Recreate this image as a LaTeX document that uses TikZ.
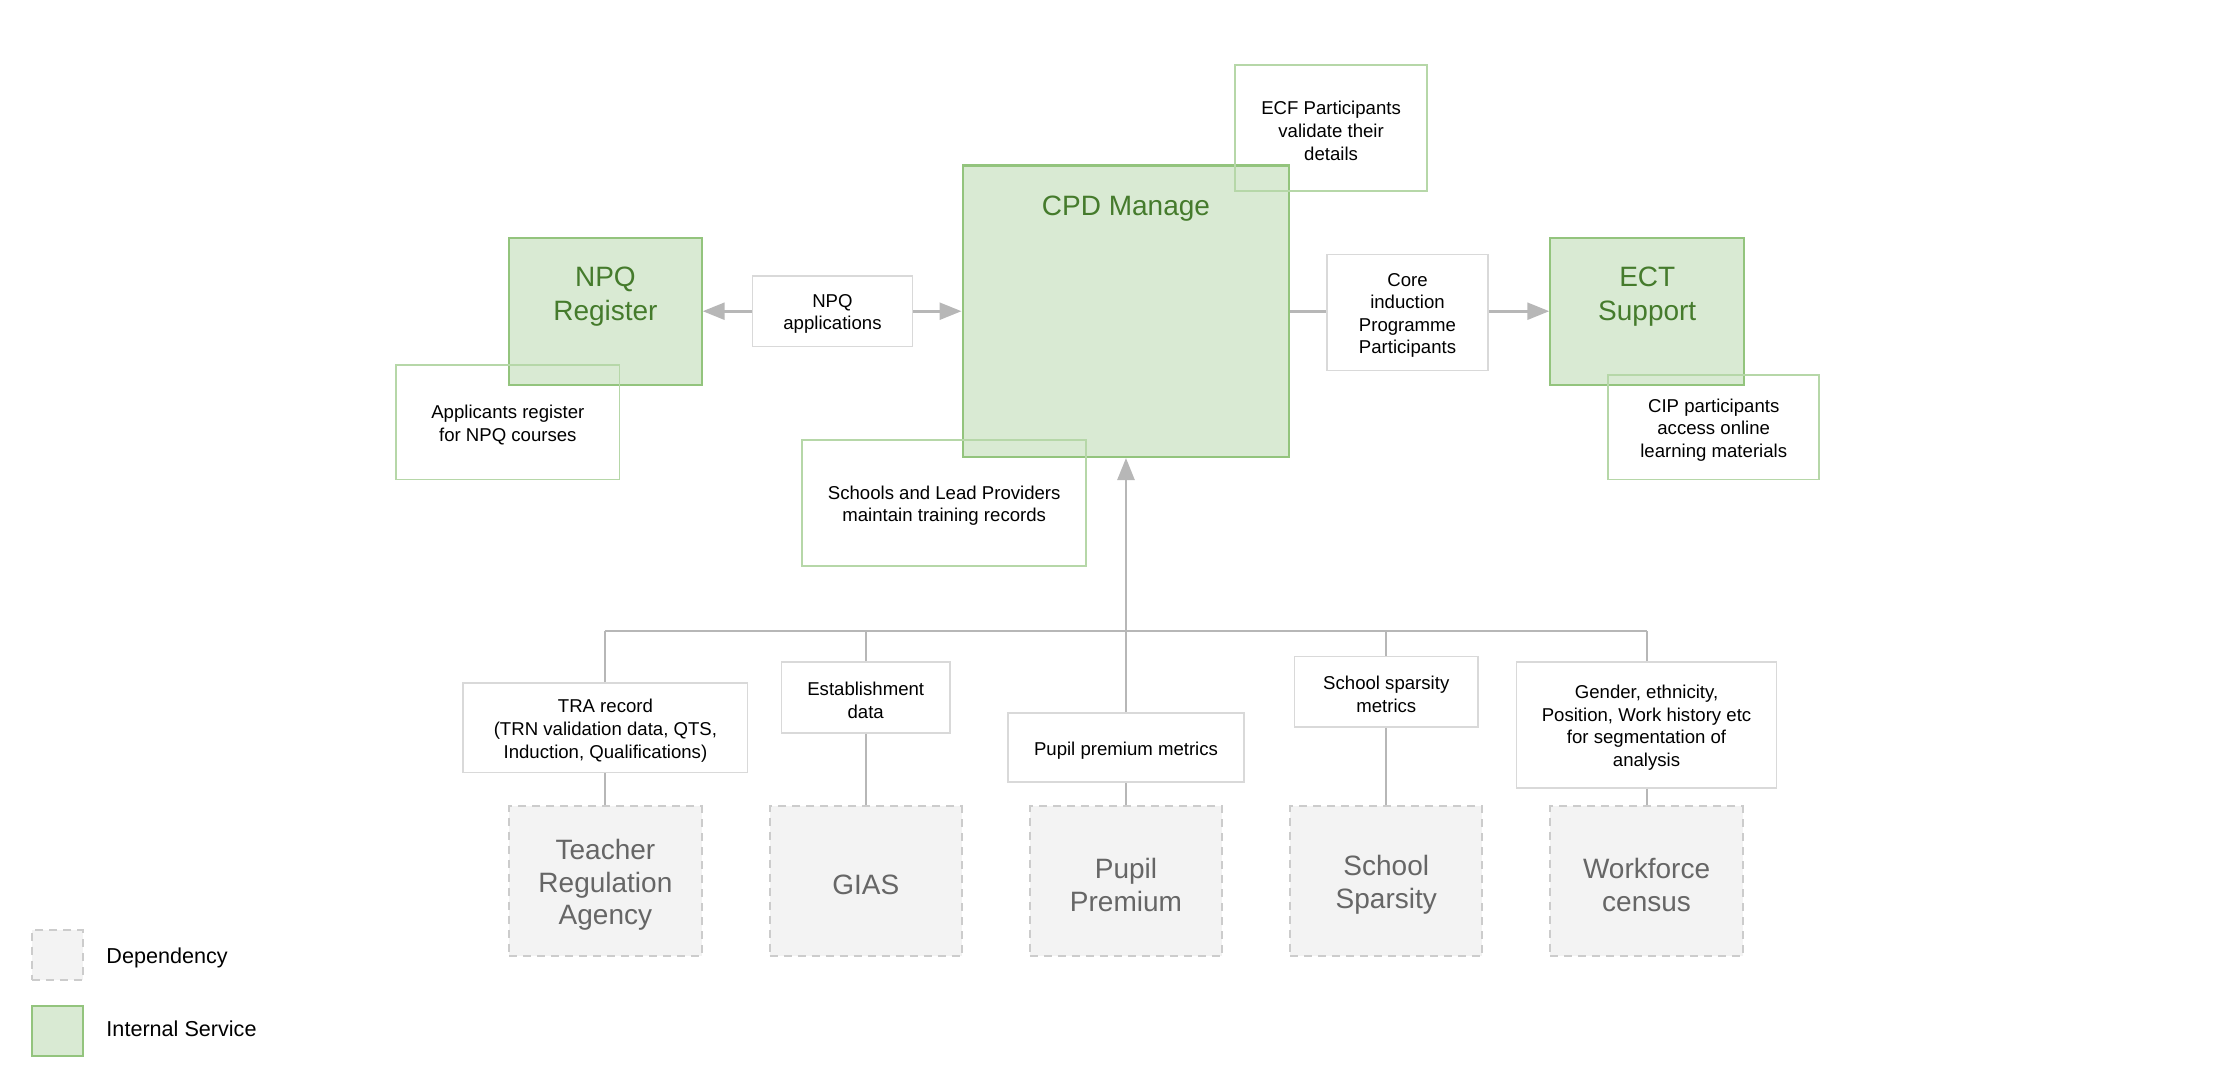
\documentclass[tikz,border=0pt]{standalone}
\usepackage{fontspec}
\setmainfont{Liberation Sans}
\usetikzlibrary{arrows.meta}
\definecolor{gfill}{HTML}{D9EAD3}
\definecolor{gborder}{HTML}{93C47D}
\definecolor{gtext}{HTML}{457B2C}
\definecolor{nborder}{HTML}{B6D7A8}
\definecolor{lborder}{HTML}{D9D9D9}
\definecolor{dfill}{HTML}{F3F3F3}
\definecolor{dborder}{HTML}{CCCCCC}
\definecolor{dtext}{HTML}{666666}
\definecolor{lgray}{HTML}{B7B7B7}
\def\U{0.70727pt}
\tikzset{
  sz/.style 2 args={minimum width=#1*\U, minimum height=#2*\U},
  svc/.style={draw=gborder, fill=gfill, line width=1.1pt, inner sep=0pt},
  svctext/.style={text=gtext, align=center, inner sep=0pt, font=\fontsize{14}{17}\selectfont},
  smalltext/.style={align=center, inner sep=0pt, yshift=-1.4pt, font=\fontsize{9.3}{11.3}\selectfont},
  deptext/.style={align=center, inner sep=0pt, yshift=-1.8pt, text=dtext, font=\fontsize{14}{16.3}\selectfont},
  txt/.style={label={[smalltext]center:{#1}}},
  dtxt/.style={label={[deptext]center:{#1}}},
  note/.style={draw=nborder, line width=0.9pt, inner sep=0pt},
  lab/.style={draw=lborder, fill=white, line width=0.8pt, inner sep=0pt},
  dep/.style={draw=dborder, fill=dfill, dash pattern=on 4pt off 3pt, line width=1pt, inner sep=0pt},
  legtext/.style={anchor=west, inner sep=0pt, font=\fontsize{10.8}{13}\selectfont},
  conn/.style={draw=lgray, line width=1pt},
  arr/.style={draw=lgray, line width=1.3pt, -{Triangle[length=11pt,width=8.5pt]}},
}
\begin{document}
\begin{tikzpicture}[x=0.70727pt, y=-0.70727pt]
\useasboundingbox (0,0) rectangle (1568,767.8);

% internal services
\node[svc, sz={231}{206}] (cpd) at (796,220) {};
\node[svctext] (cpdt) at (796,147.5) {CPD Manage};
\node[svc, sz={136}{104}] (npq) at (428,220) {};
\node[svctext] (npqt) at (428,209.5) {NPQ\\Register};
\node[svc, sz={137}{104}] (ect) at (1164.5,220) {};
\node[svctext] (ectt) at (1164.5,209.5) {ECT\\Support};

% notes (green outline, no fill)
\node[note, sz={136}{89}, txt={ECF Participants\\validate their\\details}] (ecf) at (941,90.5) {};
\node[note, sz={158}{81}, txt={Applicants register\\for NPQ courses}] (appl) at (359,298.5) {};
\node[note, sz={149}{74}, txt={CIP participants\\access online\\learning materials}] (cip) at (1211.5,302) {};
\node[note, sz={201}{89}, txt={Schools and Lead Providers\\maintain training records}] (schools) at (667.5,355.5) {};

% labels on top connectors
\node[lab, sz={113}{50}, txt={NPQ\\applications}] (apps) at (588.5,220) {};
\node[lab, sz={114}{82}, txt={Core\\induction\\Programme\\Participants}] (core) at (995,221) {};

% dependencies
\node[dep, sz={136}{106}, dtxt={Teacher\\Regulation\\Agency}] (tra) at (428,623) {};
\node[dep, sz={136}{106}, dtxt={GIAS}] (gias) at (612,623) {};
\node[dep, sz={136}{106}, dtxt={Pupil\\Premium}] (pp) at (796,623) {};
\node[dep, sz={136}{106}, dtxt={School\\Sparsity}] (ss) at (980,623) {};
\node[dep, sz={136}{106}, dtxt={Workforce\\census}] (wc) at (1164,623) {};

% data labels
\node[lab, sz={201}{63}, txt={TRA record\\(TRN validation data, QTS,\\Induction, Qualifications)}] (tral) at (428,514.5) {};
\node[lab, sz={119}{50}, txt={Establishment\\data}] (estl) at (612,493) {};
\node[lab, sz={167}{49}, txt={Pupil premium metrics}] (ppl) at (796,528.5) {};
\node[lab, sz={130}{50}, txt={School sparsity\\metrics}] (ssl) at (980,489) {};
\node[lab, sz={184}{89}, txt={Gender, ethnicity,\\Position, Work history etc\\for segmentation of\\analysis}] (wcl) at (1164,512.5) {};

\coordinate (bus) at (796,446);

% connectors
\draw[arr] (apps.west) -- (npq.east);
\draw[arr] (apps.east) -- (cpd.west);
\draw[conn, line width=1.3pt] (cpd.east) -- (cpd.east -| core.west);
\draw[arr] (core.east |- ect.west) -- (ect.west);
\draw[arr] (ppl.north) -- (cpd.south);
\draw[conn] (tral.north |- bus) -- (wcl.north |- bus);
\draw[conn] (tral.north) -- (tral.north |- bus);
\draw[conn] (estl.north) -- (estl.north |- bus);
\draw[conn] (ssl.north) -- (ssl.north |- bus);
\draw[conn] (wcl.north) -- (wcl.north |- bus);
\draw[conn] (tral.south) -- (tra.north);
\draw[conn] (estl.south) -- (gias.north);
\draw[conn] (ppl.south) -- (pp.north);
\draw[conn] (ssl.south) -- (ss.north);
\draw[conn] (wcl.south) -- (wc.north);

% legend
\node[dep, sz={36}{35}] (legdep) at (40.6,675) {};
\node[legtext] (legdept) at (75,677.5) {Dependency};
\node[svc, sz={36}{35.5}] (legsvc) at (40.6,728.8) {};
\node[legtext] (legsvct) at (75,727.5) {Internal Service};
\end{tikzpicture}
\end{document}
